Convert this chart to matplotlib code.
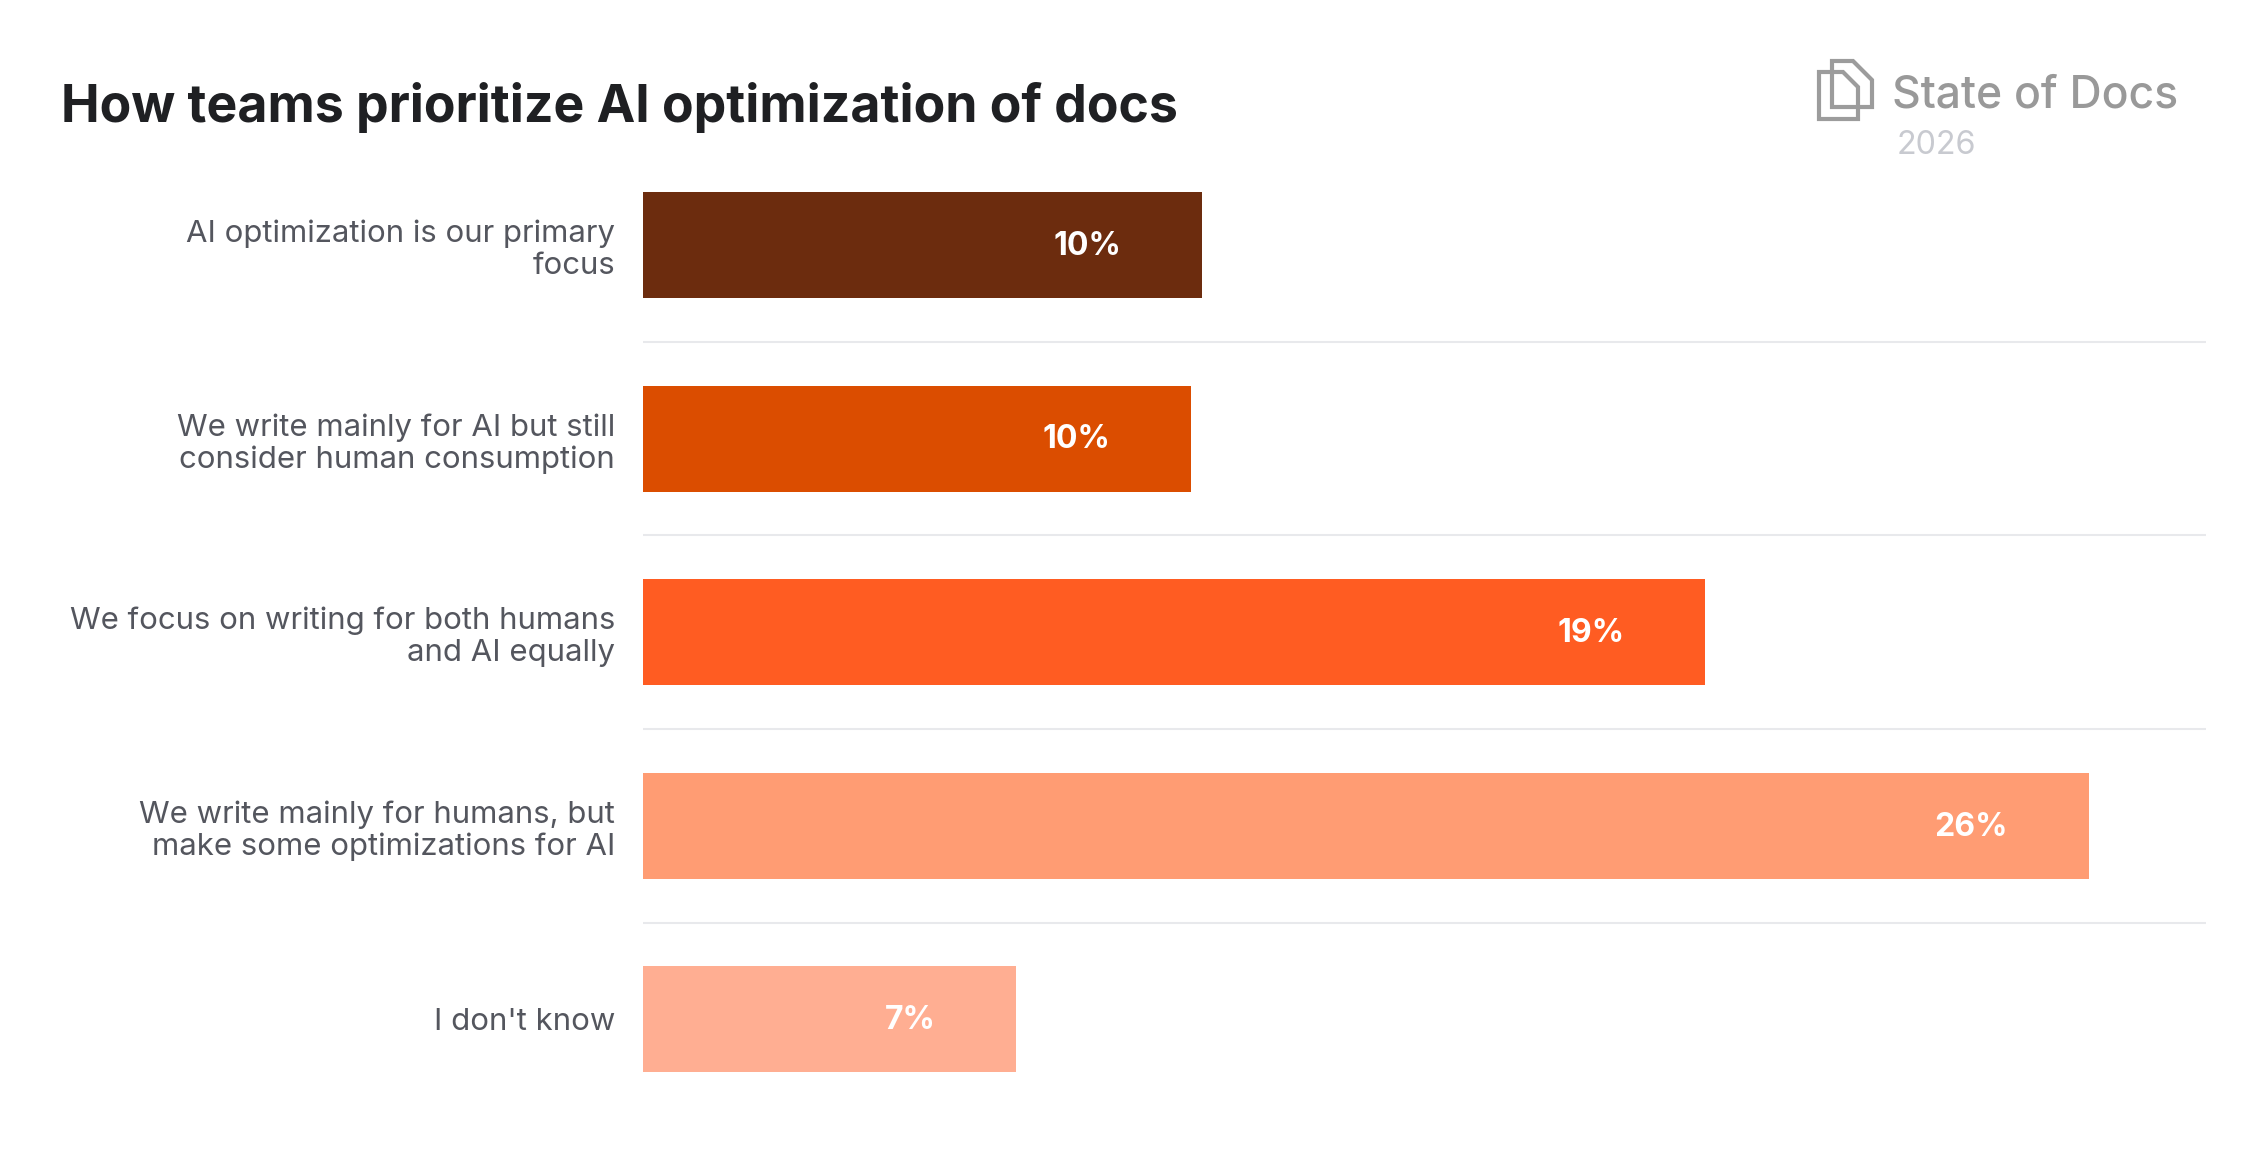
import matplotlib
matplotlib.use("Agg")
import matplotlib.pyplot as plt
from matplotlib.patches import Polygon

categories = ["AI optimization is our primary\nfocus",
              "We write mainly for AI but still\nconsider human consumption",
              "We focus on writing for both humans\nand AI equally",
              "We write mainly for humans, but\nmake some optimizations for AI",
              "I don't know"]
values = [10.05, 9.86, 19.1, 26.0, 6.71]
value_labels = ["10%", "10%", "19%", "26%", "7%"]
bar_colors = ["#6c2c0e", "#db4d00", "#ff5c22", "#ff9c73", "#ffae92"]

W, H = 2265, 1176
plt.rcParams['font.family'] = ['Inter', 'DejaVu Sans']

fig = plt.figure(figsize=(W / 100, H / 100), dpi=100, facecolor="white")
ax = fig.add_axes([643 / W, 1 - 1116.2 / H, (2206 - 643) / W, (1116.2 - 148.2) / H])

y = list(range(len(categories)))
ax.barh(y, values, height=0.548, color=bar_colors)
ax.set_xlim(0, 28.11)
ax.set_ylim(4.5, -0.5)

# separators between the rows
for sep in [0.5, 1.5, 2.5, 3.5]:
    ax.axhline(sep, color="#e8e9ec", lw=1.5)

for i in y:
    ax.annotate(value_labels[i], (values[i], i), xytext=(-58, -1), textcoords="offset points",
                ha="right", va="center", color="white", fontsize=23, fontweight="bold")

ax.set_yticks(y)
ax.set_yticklabels(categories, fontsize=22.4, color="#54565e", linespacing=1.18)
ax.tick_params(axis="y", length=0, pad=20)
ax.xaxis.set_visible(False)
for s in ax.spines.values():
    s.set_visible(False)

fig.text(61 / W, 1 - 122 / H, "How teams prioritize AI optimization of docs",
         fontsize=37.3, fontweight="bold", color="#1f2023", ha="left", va="baseline")

# logo, in pixels from the top left
def px(points):
    return [(a / W, 1 - b / H) for a, b in points]

back_doc = [(1832, 61), (1853, 61), (1872, 80), (1872, 107), (1832, 107)]
front_doc = [(1819, 72), (1843, 72), (1858, 87), (1858, 119), (1819, 119)]
for doc in [back_doc, front_doc]:
    fig.add_artist(Polygon(px(doc), closed=True, fill=False, edgecolor="#9c9c9c", lw=3,
                           joinstyle="miter", transform=fig.transFigure))

fig.text(1892 / W, 1 - 108 / H, "State of Docs", fontsize=32, fontweight="medium", color="#999999", ha="left", va="baseline")
fig.text(1897 / W, 1 - 154 / H, "2026", fontsize=23.3, color="#c8cad0", ha="left", va="baseline")

fig.savefig("out.png", dpi=100)
